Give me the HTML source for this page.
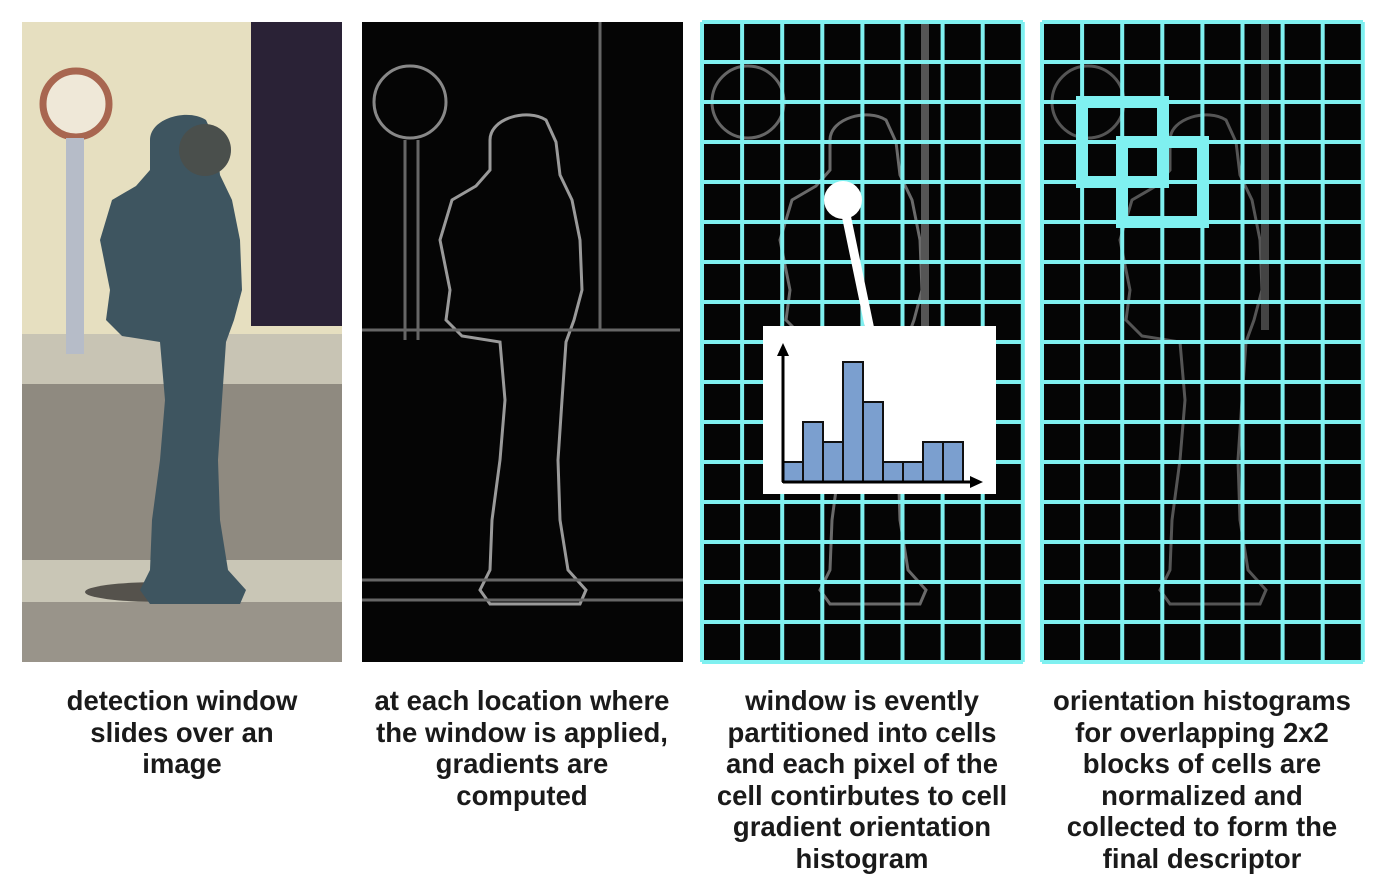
<!DOCTYPE html>
<html><head><meta charset="utf-8"><style>
html,body{margin:0;padding:0;background:#fff;width:1390px;height:894px;overflow:hidden}
.cap{position:absolute;top:685px;width:360px;text-align:center;font:bold 27.5px/31.5px "Liberation Sans",sans-serif;color:#1a1a1a;white-space:nowrap}
</style></head><body>
<svg id="fig" width="1390" height="894" style="position:absolute;left:0;top:0">
<defs>
<path id="person" d="M150,140 C150,118 188,108 206,120 L216,142 L220,175 L232,200 L240,240 L242,290 L234,320 L226,342 L222,400 L218,460 L220,520 L228,570 L246,590 L240,604 L150,604 L140,590 L150,570 L152,520 L160,460 L165,400 L160,342 L122,336 L106,320 L110,290 L100,240 L112,200 L136,186 L150,170 Z"/>
</defs>
<g>
<rect x="22" y="22" width="320" height="640" fill="#8a867c"/>
<rect x="22" y="22" width="320" height="312" fill="#e6dfc0"/>
<rect x="251" y="22" width="91" height="304" fill="#2a2236"/>
<rect x="22" y="334" width="320" height="50" fill="#c8c4b4"/>
<rect x="22" y="384" width="320" height="176" fill="#8f8a80"/>
<rect x="22" y="560" width="320" height="42" fill="#c9c6b6"/>
<rect x="22" y="602" width="320" height="60" fill="#99948a"/>
<circle cx="76" cy="104" r="33" fill="#efe8d8" stroke="#a86650" stroke-width="7"/>
<rect x="66" y="138" width="18" height="216" fill="#b6bcc8"/>
<ellipse cx="160" cy="592" rx="75" ry="10" fill="#55524c"/>
<use href="#person" fill="#3e5560"/>
<circle cx="205" cy="150" r="26" fill="#4a4f4c"/>
</g>
<g>
<rect x="362" y="22" width="321" height="640" fill="#050505"/>
<use href="#person" transform="translate(340,0)" fill="none" stroke="#9a9a9a" stroke-width="3"/>
<circle cx="410" cy="102" r="36" fill="none" stroke="#888" stroke-width="3"/>
<path d="M405,140 V340 M418,140 V340 M362,330 H680 M362,580 H683 M362,600 H683 M600,22 V330" stroke="#666" stroke-width="3" fill="none"/>
</g>
<g>
<rect x="702" y="22" width="321" height="640" fill="#050505"/>
<use href="#person" transform="translate(680,0)" fill="none" stroke="#6a6a6a" stroke-width="3"/>
<circle cx="748" cy="102" r="36" fill="none" stroke="#666" stroke-width="3"/>
<path d="M925,22 V330" stroke="#555" stroke-width="8"/>
<g id="grid3"></g>
<line x1="843" y1="200" x2="870" y2="330" stroke="#fff" stroke-width="9"/>
<circle cx="843" cy="200" r="19" fill="#fff"/>
<rect x="763" y="326" width="233" height="168" fill="#fff"/>
<g id="hist"></g>
<path d="M783,482 V350 M783,482 H975" stroke="#000" stroke-width="3"/>
<path d="M777,356 L783,343 L789,356 Z M970,476 L983,482 L970,488 Z" fill="#000"/>
</g>
<g>
<rect x="1042" y="22" width="321" height="640" fill="#050505"/>
<use href="#person" transform="translate(1020,0)" fill="none" stroke="#555" stroke-width="3"/>
<circle cx="1088" cy="102" r="36" fill="none" stroke="#555" stroke-width="3"/>
<path d="M1265,22 V330" stroke="#444" stroke-width="8"/>
<g id="grid4"></g>
<rect x="1082" y="102" width="81" height="80" fill="none" stroke="#7ff0f0" stroke-width="12"/>
<rect x="1122" y="142" width="81" height="80" fill="none" stroke="#7ff0f0" stroke-width="12"/>
</g>
</svg>
<div class="cap" style="left:2px">detection window<br>slides over an<br>image</div>
<div class="cap" style="left:342px">at each location where<br>the window is applied,<br>gradients are<br>computed</div>
<div class="cap" style="left:682px">window is evently<br>partitioned into cells<br>and each pixel of the<br>cell contirbutes to cell<br>gradient orientation<br>histogram</div>
<div class="cap" style="left:1022px">orientation histograms<br>for overlapping 2x2<br>blocks of cells are<br>normalized and<br>collected to form the<br>final descriptor</div>
<script>
const binLabels = ["b1","b2","b3","b4","b5","b6","b7","b8","b9"];
const binValues = [1,3,2,6,4,1,1,2,2];
const NS = "http://www.w3.org/2000/svg";
const x0 = 783, base = 482, bw = 20, unit = 20;
const xs = i => x0 + i * bw;
const ys = v => base - v * unit;
const hist = document.getElementById('hist');
binValues.forEach((v, i) => {
  const r = document.createElementNS(NS, 'rect');
  r.setAttribute('x', xs(i)); r.setAttribute('y', ys(v));
  r.setAttribute('width', bw); r.setAttribute('height', base - ys(v));
  r.setAttribute('fill', '#7b9fcf'); r.setAttribute('stroke', '#111'); r.setAttribute('stroke-width', '2');
  
  
  hist.appendChild(r);
});
function grid(id, left) {
  const g = document.getElementById(id);
  let d = '';
  for (let c = 0; c <= 8; c++) { const x = left + c * 40.1; d += `M${x},22 V662 `; }
  for (let r = 0; r <= 16; r++) { const y = 22 + r * 40; d += `M${left},${y} H${left + 321} `; }
  const p = document.createElementNS(NS, 'path');
  p.setAttribute('d', d); p.setAttribute('stroke', '#7ff0f0'); p.setAttribute('stroke-width', '4'); p.setAttribute('fill', 'none');
  
  
  g.appendChild(p);
}
grid('grid3', 702); grid('grid4', 1042);
</script>
</body></html>
